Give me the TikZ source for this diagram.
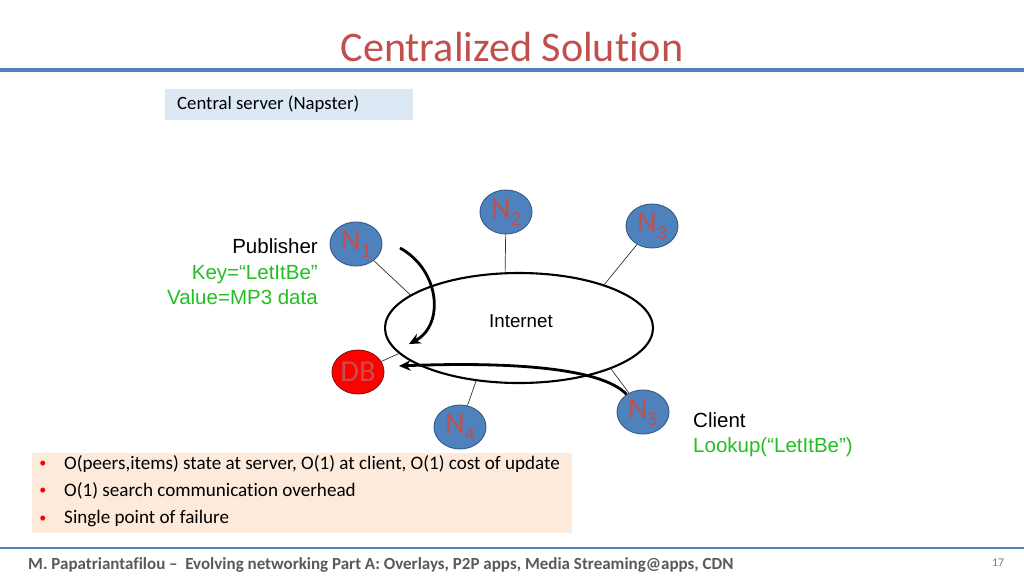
\documentclass[tikz,border=0pt]{standalone}
\usepackage{fontspec}
\setmainfont[Ligatures={NoCommon,NoRare,NoContextual}, RawFeature={-liga;-clig;-dlig;-calt}]{Carlito}
\newfontfamily\arialfont{Liberation Sans}
\usetikzlibrary{arrows.meta,shapes.geometric}

\definecolor{titlered}{RGB}{192,80,77}
\definecolor{slideblue}{RGB}{79,129,189}
\definecolor{peeredge}{RGB}{56,93,138}
\definecolor{dbedge}{RGB}{140,20,20}
\definecolor{keygreen}{RGB}{34,190,34}
\definecolor{notefill}{RGB}{253,234,218}
\definecolor{tagfill}{RGB}{220,233,245}
\definecolor{footgray}{RGB}{89,89,89}

% peer label: letter with a low digit
\newcommand{\peerlbl}[2]{#1\raisebox{-0.5ex}{\fontsize{17}{17}\selectfont #2}}

\begin{document}
\begin{tikzpicture}[x=0.03cm, y=-0.03cm,
  peer/.style={ellipse, draw=peeredge, line width=0.8pt, fill=slideblue,
    minimum width=1.56cm, minimum height=1.32cm, inner sep=0pt,
    text=titlered, font=\fontsize{26}{26}\selectfont},
  wire/.style={black!80, line width=0.6pt},
  flow/.style={line width=2.4pt, -{Stealth[length=10pt, width=9pt]}},
  lbl/.style={font=\arialfont\fontsize{17.5}{17.5}\selectfont, inner sep=0pt}]
  \useasboundingbox (0,0) rectangle (1024,576);

  % title and rules
  \node[text=titlered, font=\fontsize{36}{40}\selectfont] (title) at (512,47) {Centralized Solution};
  \draw[slideblue, line width=2.6pt] (0,70) -- (1024,70);
  \draw[slideblue, line width=1.8pt] (0,548) -- (1024,548);

  % tag box
  \node[fill=tagfill, minimum width=7.44cm, minimum height=0.93cm, inner sep=0pt]
    (tag) at (289,104) {};
  \node[anchor=west, font=\fontsize{16}{18}\selectfont, inner sep=0pt]
    (tagtxt) at (177,104) {Central server (Napster)};

  % internet cloud
  \node[ellipse, draw, line width=1.8pt, minimum width=8.04cm, minimum height=3.3cm] (inet) at (519,328) {};
  \node[font=\arialfont\fontsize{16}{16}\selectfont] (inettxt) at (521,321) {Internet};

  % peers and the server
  \node[peer] (n1) at (356,244) {\peerlbl{N}{1}};
  \node[peer] (n2) at (506,212) {\peerlbl{N}{2}};
  \node[peer] (n3) at (652,226) {\peerlbl{N}{3}};
  \node[peer] (n4) at (460,427) {\peerlbl{N}{4}};
  \node[peer] (n5) at (643,412) {\peerlbl{N}{5}};
  \node[peer, fill=red, draw=dbedge] (db) at (358,372) {DB};

  % links to the internet
  \draw[wire] (n1) -- (inet.163);
  \draw[wire] (n2) -- (inet.104);
  \draw[wire] (n3) -- (inet.27);
  \draw[wire] (n4) -- (inet.231);
  \draw[wire] (n5) -- (inet.336);
  \draw[wire] (db) -- (inet.192);

  % publish and lookup
  \coordinate (pub) at (400,248);
  \draw[flow, shorten >=28pt] (pub) .. controls (440,270) and (445,325) .. (db.30);
  \draw[flow, shorten >=13pt] (n5) .. controls (600,366) and (500,362) .. (db.12);

  % labels
  \node[lbl, anchor=base east] (publ) at (318,253) {Publisher};
  \node[lbl, anchor=base east, text=keygreen] (key) at (318,279) {Key=“LetItBe”};
  \node[lbl, anchor=base east, text=keygreen] (val) at (318,304) {Value=MP3 data};
  \node[lbl, anchor=base west] (client) at (693,427) {Client};
  \node[lbl, anchor=base west, text=keygreen] (look) at (693,452) {Lookup(“LetItBe”)};

  % properties box
  \node[fill=notefill, minimum width=16.2cm, minimum height=2.4cm, inner sep=0pt]
    (props) at (302,493) {};
  \foreach \y/\t in {464/{O(peers,items) state at server, O(1) at client, O(1) cost of update},
                     491/{O(1) search communication overhead},
                     519/{Single point of failure}} {
    \node[text=red, font=\fontsize{12}{12}\selectfont] at (43,\y) {\textbullet};
    \node[anchor=west, inner sep=0pt, font=\fontsize{16.3}{18}\selectfont] at (64,\y) {\t};
  }

  % footer
  \node[anchor=west, inner sep=0pt, text=footgray, font=\bfseries\fontsize{14.5}{16}\selectfont]
    (foot) at (28,565) {M. Papatriantafilou --\ \ Evolving networking Part A: Overlays, P2P apps, Media Streaming@apps, CDN};
  \node[text=footgray!80, font=\fontsize{10}{12}\selectfont] (page) at (998,563) {17};
\end{tikzpicture}
\end{document}
